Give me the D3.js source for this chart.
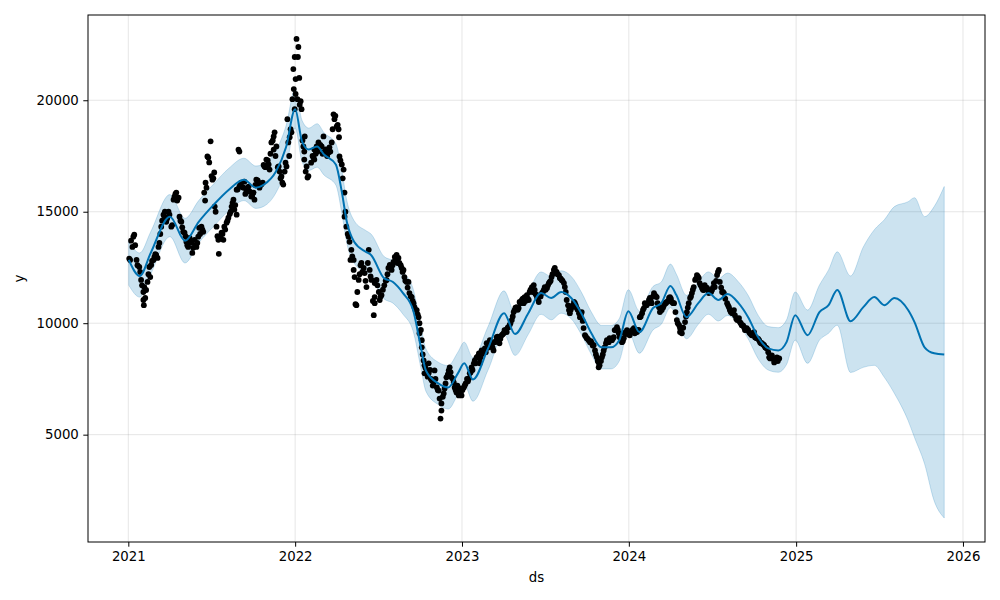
<!DOCTYPE html>
<html><head><meta charset="utf-8">
<script src="https://cdn.jsdelivr.net/npm/d3@7"></script>
<style>
html,body{margin:0;padding:0;background:#fff;}
svg{display:block;font-family:"DejaVu Sans",sans-serif;}
</style></head>
<body><svg id="c" width="1000" height="600"></svg>
<script>
// ---------- forecast (yhat with uncertainty band) ----------
const fcDates = ["2021-01-02","2021-01-26","2021-02-19","2021-04-02","2021-05-05","2021-06-04","2021-07-07","2021-08-09","2021-09-11","2021-10-07","2021-10-25","2021-11-20","2021-12-12",
"2022-01-01","2022-01-16","2022-01-31","2022-02-18","2022-03-05","2022-03-31","2022-04-13","2022-04-24","2022-05-10","2022-06-05","2022-06-16","2022-07-14","2022-08-03","2022-08-25","2022-09-16","2022-10-03","2022-10-14","2022-11-10","2022-12-02","2022-12-23",
"2023-01-06","2023-01-25","2023-02-27","2023-04-03","2023-04-27","2023-05-26","2023-06-23","2023-07-15","2023-08-06","2023-08-28","2023-09-19","2023-10-11","2023-11-02","2023-11-23","2023-12-11","2023-12-31",
"2024-01-24","2024-02-23","2024-03-12","2024-04-01","2024-04-14","2024-05-06","2024-06-01","2024-06-23","2024-07-15","2024-08-04","2024-08-28","2024-09-18","2024-10-10","2024-11-01","2024-11-23","2024-12-11","2024-12-30",
"2025-01-26","2025-02-21","2025-03-13","2025-04-01","2025-04-30","2025-05-28","2025-06-21","2025-07-13","2025-08-04","2025-09-03","2025-09-17","2025-10-09","2025-10-30","2025-11-21"];
const yhat = [12840,12120,13150,14780,13700,14550,15320,15990,16440,16080,16220,16800,17890,
19600,18160,17790,17930,17570,17120,15900,14550,13650,13200,13060,12030,11850,11350,10590,8920,7880,7300,7120,7750,
8200,7480,8870,10450,9510,10450,11350,11130,11400,11130,10450,9550,8920,8920,9240,10540,
9600,10680,10900,11670,11260,10270,10900,11350,11040,11310,10900,10270,9370,8870,8780,9150,10360,
9460,10500,10810,11490,10090,10720,11170,10810,11130,10590,10050,8920,8650,8600];
const yhatLower = [11700,11170,12200,13880,12700,13600,14350,15050,15500,15150,15250,15850,16950,
18750,17250,16850,17000,16650,16200,14950,13600,12700,12250,12100,11100,10900,10400,9650,8000,6950,6350,6150,6800,
7250,6500,7900,9500,8550,9500,10400,10150,10450,10200,9500,8600,7950,7950,8300,9600,
8650,9700,9950,10700,10300,9300,9950,10400,10100,10350,9950,9300,8400,7900,7800,8150,9240,
8200,9240,9550,9910,7790,8020,8110,7570,6850,5630,4870,3690,2030,1260];
const yhatUpper = [13650,13150,14100,15770,14700,15500,16250,16950,17400,17050,17150,17750,18850,
20500,19100,18750,18950,18550,18050,16850,15500,14600,14150,14000,13000,12800,12300,11550,9850,8850,8250,8100,8700,
9150,8450,9850,11450,10450,11400,12300,12100,12350,12100,11400,10500,9900,9900,10200,11500,
10550,11650,11850,12650,12200,11250,11850,12300,12000,12250,11850,11250,10350,9850,9800,10150,11400,
10590,11710,12390,13200,12120,13420,14190,14640,15230,15450,15630,14780,15230,16130];

// ---------- observed points: [days since obsStart, y] ----------
const obsStart = "2021-01-01";
const obs2021 = [[4,12840],[9,13420],[11,13880],[13,13970],[18,12840],[24,12520],[28,11940],[33,11400],[33,11040],[34,10810],[35,11620],[37,11130],[39,11490],[42,11850],[46,12520],[48,12070],[50,12610],[55,12840],[57,12970],[61,13060],[64,12930],[66,13420],[72,14330],[77,14870],[79,14780],[80,15000],[83,14550],[90,14870],[94,14330],[99,15540],[101,15680],[105,15860],[110,15630],[112,14780],[116,14550],[120,14100],[123,14060],[127,13650],[131,13420],[134,13830],[138,13610],[140,13150],[142,13380],[145,13740],[149,13420],[153,13880],[155,14280],[160,14330],[164,14100],[166,15860],[171,16080],[173,17480],[175,17430],[177,17210],[180,18160],[184,16440],[188,16760],[189,15230],[193,14330],[197,13740],[198,13110],[199,13880],[204,14060],[208,13740],[210,14330],[215,14510],[219,14730],[226,15230],[230,15540],[232,15090],[237,14870],[237,15990],[241,17790],[243,17700],[243,16130],[247,16310],[252,16080],[254,16350],[258,15990],[263,16130],[269,15680],[274,15860],[276,15540],[280,16440],[285,16310],[287,16080],[291,16220],[298,17030],[302,17340],[307,17120],[309,16890],[313,18110],[318,18380],[320,18560],[318,17790],[324,17930],[329,17030],[331,16800],[335,16580],[339,16220],[342,16800],[346,17030],[348,19150],[350,18110],[353,18340],[357,18560],[359,20050],[361,21400],[362,20500],[364,21940],[364,19600],
[2,12900],[6,13700],[15,13500],[20,12600],[26,12300],[30,11700],[44,12200],[52,12800],[59,13100],[68,13600],[70,14000],[74,14600],[85,14700],[88,15000],[96,14400],[103,15800],[107,15500],[114,14600],[118,14300],[125,13900],[129,13500],[136,13700],[147,13500],[151,13600],[157,14000],[162,14200],[168,15500],[169,16300],[182,16600],[186,16500],[191,15000],[195,13900],[202,13800],[206,14000],[212,14200],[217,14600],[222,14900],[224,15000],[228,15400],[234,15300],[239,16000],[245,16200],[250,16100],[256,15800],[261,16000],[266,15900],[271,15700],[278,16200],[283,16400],[289,16200],[294,16300],[296,17100],[300,17000],[305,17300],[311,17600],[316,18200],[322,17500],[327,17000],[333,16500],[337,16300],[344,17200],[352,17500],[355,18700]];
const obs2022 = [[366,20950],[366,20280],[368,22750],[370,20050],[371,21940],[372,22390],[377,19960],[379,19600],[383,17930],[385,17700],[385,17340],[386,18380],[390,17030],[392,16530],[405,17430],[407,17790],[407,17340],[412,17930],[416,18110],[418,17890],[423,17930],[427,18380],[429,17700],[438,17660],[440,17890],[445,18110],[449,19370],[451,19150],[456,18830],[460,18700],[461,18340],[462,17480],[467,17120],[471,16890],[473,15860],[473,14780],[477,14330],[482,13880],[484,13650],[488,13290],[486,12840],[493,12840],[493,12390],[495,12070],[497,10850],[499,10810],[504,11940],[510,12700],[515,12480],[517,12250],[521,11620],[526,13290],[528,12390],[532,11940],[537,10360],[539,10900],[539,11800],[539,11170],[543,11940],[548,11400],[550,11040],[554,11260],[565,11940],[569,12480],[572,12610],[576,12390],[580,12750],[583,12970],[587,13060],[591,12930],[593,12700],[598,12480],[602,12390],[604,12070],[609,11850],[613,11850],[615,11350],[620,11170],[624,10900],[626,10720],[631,10590],[635,10270],[637,10000],[637,9550],[642,9240],[642,8920],[646,8330],[648,8110],[648,7750],[653,7880],[657,7750],[657,8200],[664,7430],[668,7340],[670,7880],[675,7120],[679,6980],[681,6620],[685,6400],[685,6080],[683,5720],[690,6850],[692,7070],[696,7570],[701,7880],[703,8020],[707,7570],[712,7340],[714,7120],[718,6890],[723,6760],[725,7070],[729,6760],
[374,21000],[375,19800],[381,18200],[388,16800],[394,16600],[400,17200],[403,17500],[410,17600],[414,17700],[420,18000],[425,17600],[432,17800],[435,17500],[442,17700],[447,18700],[453,19300],[458,18900],[464,17300],[469,16500],[475,15000],[480,14000],[490,13000],[501,11400],[506,12200],[508,12600],[512,12300],[519,11900],[524,12700],[530,12100],[535,11000],[545,11700],[552,11200],[557,11500],[560,11700],[563,11900],[567,12200],[574,12500],[578,12600],[585,12800],[589,12700],[596,12600],[600,12300],[606,11900],[611,11600],[618,11200],[622,11000],[628,10600],[633,10400],[640,9700],[644,8600],[650,8000],[655,7600],[660,7900],[662,7500],[666,7200],[672,7500],[677,7000],[688,6700],[694,7300],[699,7700],[705,7800],[710,7500],[716,7000],[720,7200],[727,6900],[731,7000]];
const obs2023 = [[734,7120],[736,7210],[745,7520],[747,7750],[751,8020],[756,8200],[758,8330],[762,8470],[767,8650],[769,8200],[769,8420],[773,8780],[777,8650],[780,8870],[784,9100],[788,8920],[791,9240],[795,9010],[799,8780],[802,9150],[806,9370],[810,9330],[812,9100],[817,9460],[821,9550],[823,9690],[828,9600],[832,9820],[834,9910],[839,10140],[843,10500],[845,10590],[850,10720],[854,10680],[856,10950],[861,11040],[865,10900],[867,11170],[872,11260],[876,11040],[878,11400],[883,11620],[887,11710],[889,11490],[894,11170],[898,10950],[900,11260],[905,11350],[909,11490],[911,11620],[916,11580],[920,11800],[922,11850],[926,12070],[931,12390],[933,12480],[937,12300],[942,12160],[944,12030],[948,11940],[953,11800],[955,11620],[959,11040],[964,10590],[966,10450],[970,10720],[975,10950],[977,10900],[981,10680],[986,10450],[988,10270],[992,10500],[996,9780],[999,9460],[1003,9330],[1007,9240],[1010,9150],[1014,9100],[1018,9010],[1021,8780],[1025,8470],[1029,8240],[1031,8110],[1029,8020],[1036,8470],[1040,8780],[1042,8920],[1047,9240],[1051,9150],[1053,9330],[1058,9240],[1062,9370],[1064,9690],[1069,9820],[1073,9550],[1075,9370],[1080,9150],[1084,9330],[1086,9550],[1091,9690],
[738,7300],[741,7500],[743,7400],[749,7800],[753,7900],[760,8200],[764,8500],[771,8500],[775,8700],[782,8700],[786,8900],[793,9100],[797,8900],[804,9200],[808,9400],[814,9300],[819,9500],[826,9700],[830,9800],[836,10000],[841,10300],[847,10700],[852,10600],[858,10900],[863,11100],[869,11000],[874,11100],[880,11500],[885,11400],[891,11300],[896,11100],[902,11200],[907,11400],[913,11500],[918,11700],[924,11900],[928,12200],[935,12300],[939,12200],[946,12000],[950,11900],[957,11400],[962,10800],[968,10600],[972,10800],[979,10800],[983,10600],[990,10400],[994,10100],[1001,9400],[1005,9300],[1012,9200],[1016,9000],[1023,8600],[1027,8300],[1034,8300],[1038,8600],[1045,9100],[1049,9200],[1056,9300],[1060,9300],[1066,9700],[1071,9700],[1078,9300],[1082,9200],[1088,9600],[1093,9500]];
const obs2024 = [[1095,9600],[1097,9460],[1102,9690],[1106,9780],[1108,9550],[1113,9600],[1117,9690],[1119,10270],[1124,10450],[1128,10680],[1130,10900],[1134,10810],[1139,11040],[1141,11130],[1145,10900],[1150,11350],[1152,11260],[1156,11170],[1161,10720],[1163,10500],[1167,10590],[1172,10810],[1174,10900],[1178,10950],[1183,11130],[1185,11170],[1189,10950],[1194,10900],[1200,10140],[1205,9910],[1207,9780],[1207,9600],[1211,9550],[1218,10050],[1222,10500],[1226,10900],[1229,11130],[1233,11350],[1237,11620],[1240,11940],[1244,12160],[1248,12030],[1250,11800],[1255,11580],[1259,11490],[1261,11710],[1266,11580],[1270,11350],[1272,11400],[1277,11490],[1281,11800],[1283,11620],[1288,12160],[1292,12390],[1294,11850],[1299,11400],[1303,11350],[1310,10900],[1314,10720],[1316,10590],[1321,10450],[1325,10590],[1327,10360],[1332,10140],[1336,10230],[1338,10050],[1342,9910],[1347,9820],[1349,9690],[1353,9780],[1358,9600],[1360,9550],[1364,9460],[1369,9600],[1371,9370],[1375,9330],[1380,9240],[1382,9150],[1386,9100],[1391,9010],[1393,8920],[1397,8870],[1402,8470],[1404,8420],[1408,8560],[1413,8240],[1415,8330],[1419,8470],[1424,8420],
[1100,9600],[1104,9700],[1110,9600],[1115,9700],[1121,10300],[1126,10600],[1132,10800],[1137,10900],[1143,11000],[1148,11200],[1154,11200],[1158,10900],[1165,10600],[1170,10700],[1176,10900],[1181,11000],[1187,11100],[1192,10900],[1197,10500],[1202,10000],[1209,9700],[1214,9800],[1220,10300],[1224,10700],[1231,11200],[1235,11500],[1242,12000],[1246,12100],[1252,11700],[1257,11500],[1264,11600],[1268,11500],[1275,11400],[1279,11600],[1286,11900],[1290,12300],[1297,11600],[1301,11400],[1306,11100],[1312,10800],[1318,10500],[1323,10500],[1330,10200],[1334,10200],[1340,10000],[1345,9900],[1351,9700],[1356,9700],[1362,9500],[1367,9500],[1373,9350],[1378,9300],[1384,9100],[1389,9050],[1395,8900],[1400,8700],[1406,8500],[1410,8400],[1417,8400],[1421,8300]];

const yTicks = [5000, 10000, 15000, 20000];
const xTickYears = [2021, 2022, 2023, 2024, 2025, 2026];
const xLabel = "ds", yLabel = "y";

// ---------- build ----------
const parse = d3.utcParse("%Y-%m-%d");
const start = parse(obsStart);
const fc = fcDates.map((d, i) => ({t: parse(d), y: yhat[i], lo: yhatLower[i], hi: yhatUpper[i]}));
const obs = [].concat(obs2021, obs2022, obs2023, obs2024).map(([d, v]) => ({t: d3.utcDay.offset(start, d), y: v}));

const W = 1000, H = 600;
const m = {left: 88, right: 15, top: 15, bottom: 58};
const pw = W - m.left - m.right, ph = H - m.top - m.bottom;

const tExt = d3.extent(fc.map(d => d.t).concat(obs.map(d => d.t)));
const tPad = (tExt[1] - tExt[0]) * 0.05;
const x = d3.scaleUtc().domain([new Date(+tExt[0] - tPad), new Date(+tExt[1] + tPad)]).range([m.left, m.left + pw]);
const yMin = d3.min([d3.min(fc, d => d.lo), d3.min(obs, d => d.y)]);
const yMax = d3.max([d3.max(fc, d => d.hi), d3.max(obs, d => d.y)]);
const yPad = (yMax - yMin) * 0.05;
const y = d3.scaleLinear().domain([yMin - yPad, yMax + yPad]).range([m.top + ph, m.top]);

const svg = d3.select("#c");
const g = svg.append("g");

// grid
const xTickDates = xTickYears.map(yr => new Date(Date.UTC(yr, 0, 1)));
g.append("g").selectAll("line").data(xTickDates).join("line")
  .attr("x1", d => x(d)).attr("x2", d => x(d)).attr("y1", m.top).attr("y2", m.top + ph)
  .attr("stroke", "#808080").attr("stroke-opacity", 0.2).attr("stroke-width", 1);
g.append("g").selectAll("line").data(yTicks).join("line")
  .attr("x1", m.left).attr("x2", m.left + pw).attr("y1", d => y(d)).attr("y2", d => y(d))
  .attr("stroke", "#808080").attr("stroke-opacity", 0.2).attr("stroke-width", 1);

// band
const area = d3.area().x(d => x(d.t)).y0(d => y(d.lo)).y1(d => y(d.hi)).curve(d3.curveMonotoneX);
g.append("path").datum(fc).attr("d", area)
  .attr("fill", "#0072B2").attr("fill-opacity", 0.2)
  .attr("stroke", "#0072B2").attr("stroke-opacity", 0.2).attr("stroke-width", 1);

// observed
g.append("g").selectAll("circle").data(obs).join("circle")
  .attr("cx", d => x(d.t)).attr("cy", d => y(d.y)).attr("r", 2.9).attr("fill", "#000");

// yhat line
const line = d3.line().x(d => x(d.t)).y(d => y(d.y)).curve(d3.curveMonotoneX);
g.append("path").datum(fc).attr("d", line)
  .attr("fill", "none").attr("stroke", "#0072B2").attr("stroke-width", 2);

// frame
g.append("rect").attr("x", m.left).attr("y", m.top).attr("width", pw).attr("height", ph)
  .attr("fill", "none").attr("stroke", "#000").attr("stroke-width", 1);

// axes
const xAxis = d3.axisBottom(x).tickValues(xTickDates).tickFormat(d3.utcFormat("%Y")).tickSize(4.7).tickPadding(4.5);
const gx = svg.append("g").attr("transform", `translate(0,${m.top + ph})`).call(xAxis);
const yAxis = d3.axisLeft(y).tickValues(yTicks).tickFormat(d3.format("d")).tickSize(4.7).tickPadding(4.5);
const gy = svg.append("g").attr("transform", `translate(${m.left},0)`).call(yAxis);
[gx, gy].forEach(a => {
  a.select(".domain").remove();
  a.selectAll("text").attr("font-size", "13.3px").attr("font-family", "DejaVu Sans").attr("fill", "#000");
  a.selectAll("line").attr("stroke", "#000").attr("stroke-width", 1);
});

svg.append("text").attr("x", m.left + pw / 2).attr("y", 582).attr("text-anchor", "middle")
  .attr("font-size", "13.3px").text(xLabel);
svg.append("text").attr("transform", `translate(24,${m.top + ph / 2}) rotate(-90)`).attr("text-anchor", "middle")
  .attr("font-size", "13.3px").text(yLabel);
</script></body></html>
